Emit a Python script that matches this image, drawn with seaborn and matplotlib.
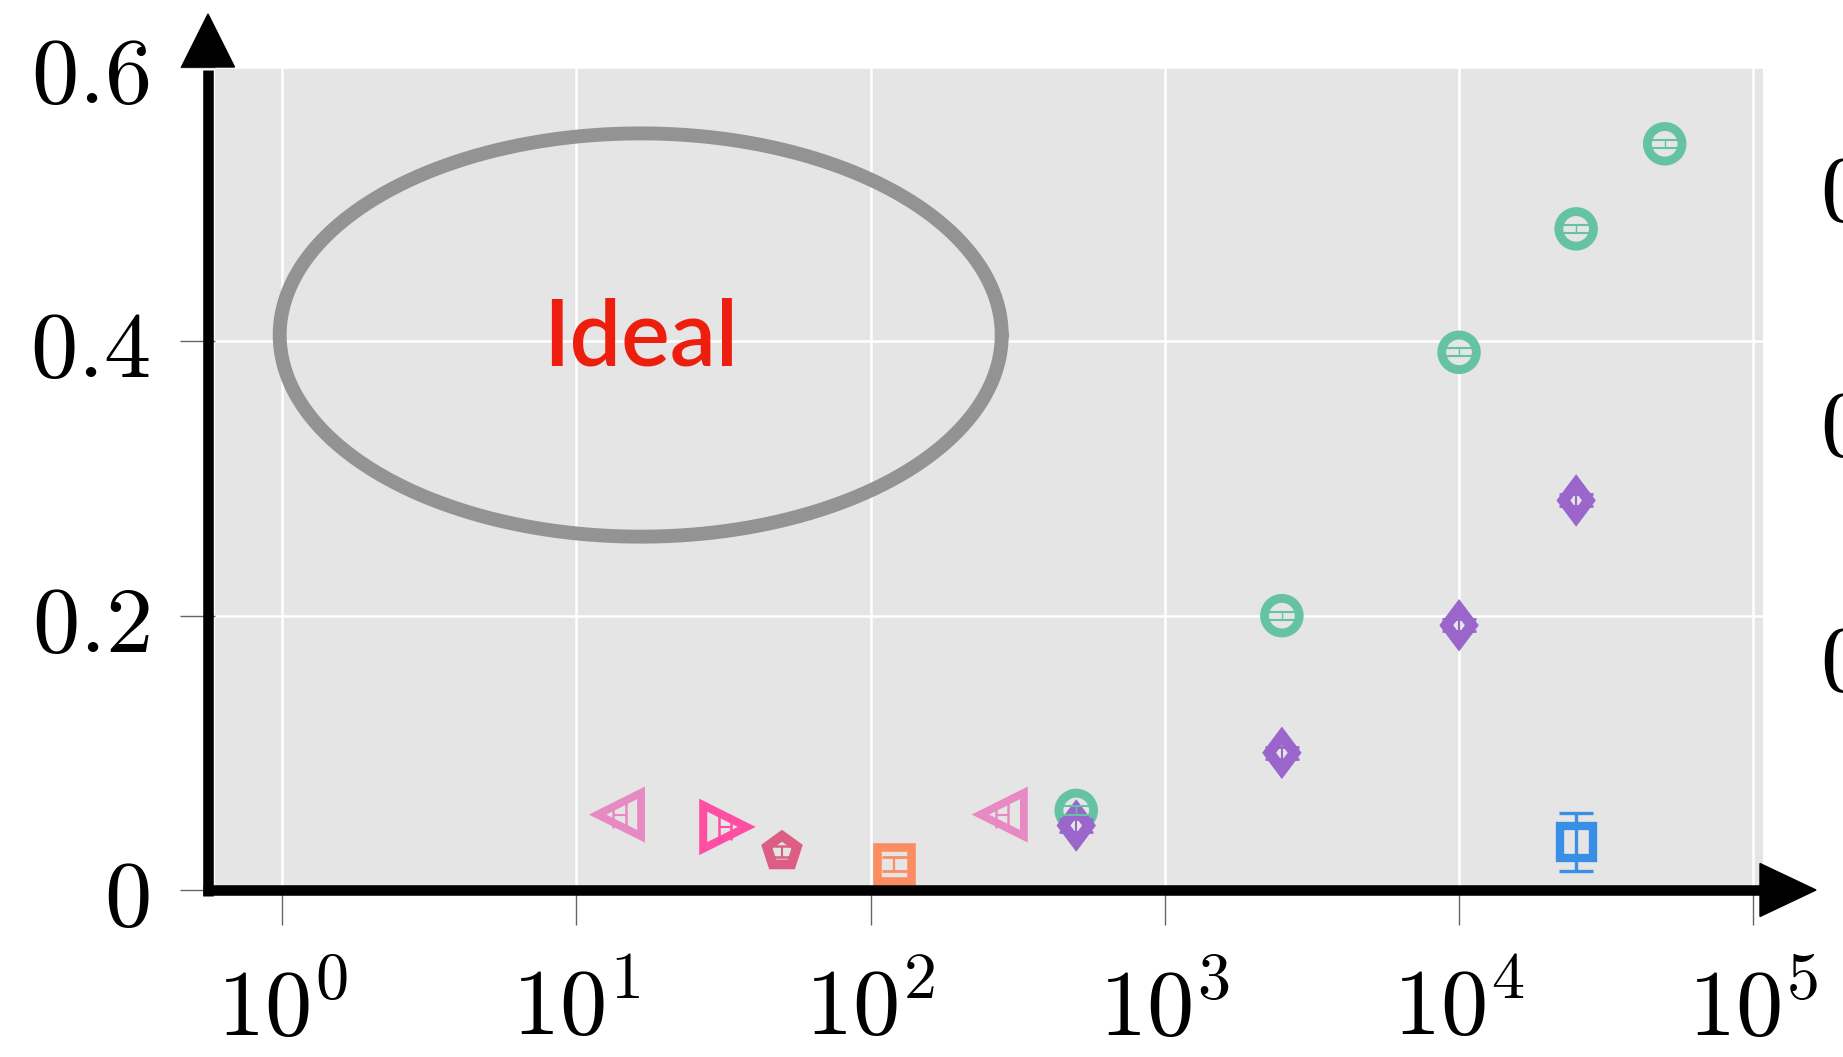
import numpy as np
import pandas as pd
import matplotlib
matplotlib.use("Agg")
import matplotlib.pyplot as plt
import seaborn as sns
from matplotlib.lines import Line2D
from matplotlib.patches import Polygon
from matplotlib.path import Path

# ---- data -------------------------------------------------------------
x_green = [500, 2500, 10000, 25000, 50000]
y_green = [0.058, 0.200, 0.392, 0.482, 0.544]

x_purple = [500, 2500, 10000, 25000]
y_purple = [0.047, 0.100, 0.193, 0.284]

x_blue = [25000]
y_blue = [0.035]

x_orange = [120]
y_orange = [0.019]

x_pink = [14, 280]
y_pink = [0.055, 0.055]

x_hot = [32]
y_hot = [0.046]

x_pent = [50]
y_pent = [0.028]

# half-widths of the error bars (y in data units, x as multiplicative spread)
yerr_green = 0.003
yerr_purple = 0.0044
yerr_blue = 0.021
yerr_orange = 0.005
yerr_pent = 0.004
xerr_pink_frac = 0.05
xerr_hot_frac = 0.05

x_ticks = [1, 10, 100, 1000, 10000, 100000]
x_ticklabels = [r"$10^{0}$", r"$10^{1}$", r"$10^{2}$", r"$10^{3}$", r"$10^{4}$", r"$10^{5}$"]
y_ticks = [0, 0.2, 0.4, 0.6]
y_ticklabels = [r"$0$", r"$0.2$", r"$0.4$", r"$0.6$"]
y2_ticks = [0.1, 0.2, 0.3]
y2_ticklabels = [r"$0.1$", r"$0.2$", r"$0.3$"]

ideal_center = (16.55, 0.4046)   # (x, y) of the "Ideal" region
ideal_half_decades = 1.227
ideal_half_height = 0.147

# ---- style ------------------------------------------------------------
BG = "#e5e5e5"
sns.set_theme(style="darkgrid", rc={
    "axes.facecolor": BG,
    "grid.color": "white",
    "grid.linewidth": 1.8,
    "text.color": "black",
    "xtick.color": "black",
    "ytick.color": "black",
})
plt.rcParams["mathtext.fontset"] = "cm"
plt.rcParams["font.family"] = ["DejaVu Sans"]

palette = {
    "green": "#66c2a5",
    "purple": "#9b66cc",
    "blue": "#3a8ee6",
    "orange": "#fc8d62",
    "pink": "#e78ac3",
    "hot": "#ff4fa2",
    "pent": "#dd5e85",
}
diamond = Path([(0, 1), (0.75, 0), (0, -1), (-0.75, 0), (0, 1)], closed=True)
markers = {"green": "o", "purple": diamond, "blue": "s", "orange": "s",
           "pink": "<", "hot": ">", "pent": "p"}
sizes = {"green": 620, "purple": 600, "blue": 560, "orange": 576,
         "pink": 980, "hot": 980, "pent": 520}
edge_w = {"green": 6.4, "purple": 8.0, "blue": 6.0, "orange": 6.2,
          "pink": 5.6, "hot": 5.8, "pent": 7.0}

frames = []
for name, xs, ys in [("green", x_green, y_green), ("purple", x_purple, y_purple),
                     ("blue", x_blue, y_blue), ("orange", x_orange, y_orange),
                     ("pink", x_pink, y_pink), ("hot", x_hot, y_hot),
                     ("pent", x_pent, y_pent)]:
    frames.append(pd.DataFrame({"x": xs, "y": ys, "series": name}))
df = pd.concat(frames, ignore_index=True)

W, H = 1843, 1057
fig = plt.figure(figsize=(W / 100, H / 100), dpi=100)
ax = fig.add_axes([215 / W, 1 - 890 / H, (1763 - 215) / W, (890 - 67) / H])

ax.set_xscale("log")
ax.set_xlim(10 ** -0.228, 10 ** 5.033)
ax.set_ylim(0, 0.6)

# "Ideal" region outline
t = np.linspace(0, 2 * np.pi, 400)
ex = 10 ** (np.log10(ideal_center[0]) + ideal_half_decades * np.cos(t))
ey = ideal_center[1] + ideal_half_height * np.sin(t)
ax.plot(ex, ey, color="#939393", lw=10, zorder=2, solid_capstyle="round")
ax.text(ideal_center[0], 0.3823, "Ideal", color="#ee1e0e", fontsize=66,
        fontfamily="Lato", fontweight="semibold", ha="center", va="baseline", zorder=3)

# markers
sns.scatterplot(data=df, x="x", y="y", hue="series", style="series", size="series",
                palette=palette, markers=markers, sizes=sizes, legend=False,
                ax=ax, zorder=4)
pts = ax.collections[-1]
fc = pts.get_facecolors()
pts.set_edgecolors(fc)
pts.set_facecolors(BG)
pts.set_linewidths([edge_w[s] for s in df["series"]])
pts.set_joinstyle("miter")

# error bars
def bars(xs, ys, color, yerr=None, xfrac=None, capsize=9, lw=1.2, capthick=1.6):
    xs = np.asarray(xs, float)
    xerr = None
    if xfrac is not None:
        xerr = [xs - xs / (1 + xfrac), xs * xfrac]
    ax.errorbar(xs, ys, yerr=yerr, xerr=xerr, fmt="none", ecolor=color,
                elinewidth=lw, capsize=capsize, capthick=capthick, zorder=5)

bars(x_green, y_green, palette["green"], yerr=yerr_green, capsize=9.4, lw=1.0, capthick=1.5)
bars(x_purple, y_purple, palette["purple"], yerr=yerr_purple, capsize=12, lw=1.5, capthick=2.0)
bars(x_blue, y_blue, palette["blue"], yerr=yerr_blue, capsize=12, lw=2.4, capthick=2.4)
bars(x_orange, y_orange, palette["orange"], yerr=yerr_orange, capsize=9, lw=1.6, capthick=2.0)
bars(x_pent, y_pent, palette["pent"], yerr=yerr_pent, capsize=6, lw=1.5, capthick=1.8)
bars(x_pink, y_pink, palette["pink"], xfrac=xerr_pink_frac, capsize=9, lw=1.5, capthick=1.8)
bars(x_hot, y_hot, palette["hot"], xfrac=xerr_hot_frac, capsize=9, lw=1.5, capthick=1.8)

# ticks and labels
ax.set_xticks(x_ticks)
ax.set_xticklabels(x_ticklabels)
ax.xaxis.set_minor_locator(matplotlib.ticker.NullLocator())
ax.set_yticks(y_ticks)
ax.set_yticklabels(y_ticklabels)
ax.tick_params(axis="both", which="major", labelsize=68, length=25, width=1.0,
               color="#666666", labelcolor="black", direction="out")
ax.tick_params(axis="x", pad=28, bottom=True)
ax.tick_params(axis="y", pad=22, left=True)
ax.set_xlabel("")
ax.set_ylabel("")
for sp in ax.spines.values():
    sp.set_visible(False)

ax2 = ax.twinx()
ax2.set_ylim(0, 0.35)
ax2.set_yticks(y2_ticks)
ax2.set_yticklabels(y2_ticklabels)
ax2.tick_params(axis="y", labelsize=68, length=0, pad=41, right=True, labelcolor="black")
ax2.grid(False)
for sp in ax2.spines.values():
    sp.set_visible(False)

# arrow-headed axis lines
def fpt(x, y):
    return (x / W, 1 - y / H)

lw_axis = 7.6
fig.add_artist(Line2D(*zip(fpt(208, 896), fpt(208, 70)), transform=fig.transFigure,
                      color="black", lw=lw_axis, solid_capstyle="butt"))
fig.add_artist(Polygon([fpt(181.5, 67), fpt(234.5, 67), fpt(208, 14)],
                       closed=True, transform=fig.transFigure, color="black"))
fig.add_artist(Line2D(*zip(fpt(203, 890), fpt(1763, 890)), transform=fig.transFigure,
                      color="black", lw=lw_axis, solid_capstyle="butt"))
fig.add_artist(Polygon([fpt(1760, 863.5), fpt(1760, 916.5), fpt(1816, 890)],
                       closed=True, transform=fig.transFigure, color="black"))

fig.savefig("out.png", dpi=100, facecolor="white")
